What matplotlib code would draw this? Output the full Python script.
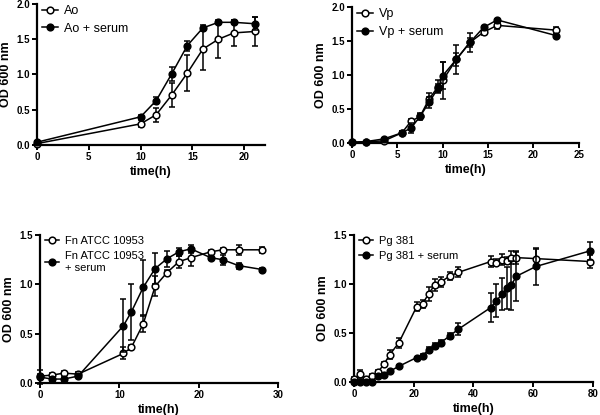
import matplotlib
matplotlib.use("Agg")
import matplotlib.pyplot as plt
from matplotlib.lines import Line2D
import numpy as np

plt.rcParams['font.family'] = ['Liberation Sans', 'DejaVu Sans']

# ---- Panel A: Ao ----
ao_t = [0, 10, 11.5, 13, 14.5, 16, 17.5, 19, 21]
ao_y = [0.02, 0.30, 0.43, 0.71, 1.02, 1.36, 1.50, 1.59, 1.61]
ao_e = [0.02, 0.05, 0.10, 0.17, 0.25, 0.30, 0.26, 0.18, 0.20]
aos_y = [0.04, 0.40, 0.63, 1.01, 1.41, 1.66, 1.74, 1.74, 1.72]
aos_e = [0.02, 0.03, 0.05, 0.10, 0.07, 0.04, 0.03, 0.03, 0.09]

# ---- Panel B: Vp ----
vp_t = [0, 1.5, 3.5, 5.5, 6.5, 7.5, 8.5, 9.5, 10, 11.5, 13, 14.5, 16, 22.5]
vp_y = [0.01, 0.02, 0.03, 0.15, 0.32, 0.39, 0.65, 0.83, 0.92, 1.23, 1.48, 1.63, 1.73, 1.66]
vp_e = [0.01, 0.01, 0.02, 0.03, 0.03, 0.05, 0.08, 0.09, 0.27, 0.10, 0.07, 0.04, 0.05, 0.04]
vps_y = [0.01, 0.02, 0.06, 0.15, 0.22, 0.39, 0.60, 0.81, 0.99, 1.23, 1.48, 1.70, 1.81, 1.58]
vps_e = [0.01, 0.01, 0.01, 0.03, 0.07, 0.04, 0.08, 0.06, 0.20, 0.21, 0.14, 0.02, 0.02, 0.02]

# ---- Panel C: Fn ATCC 10953 ----
fn_t = [0, 1.5, 3, 4.8, 10.5, 11.5, 13, 14.5, 16, 17.5, 19, 21.5, 23, 25, 28]
fn_y = [0.07, 0.08, 0.10, 0.09, 0.30, 0.36, 0.60, 0.98, 1.12, 1.23, 1.27, 1.33, 1.35, 1.35, 1.35]
fn_e = [0.02, 0.02, 0.02, 0.02, 0.06, 0.03, 0.08, 0.10, 0.03, 0.06, 0.08, 0.02, 0.02, 0.05, 0.03]
fns_y = [0.06, 0.04, 0.04, 0.07, 0.58, 0.72, 0.97, 1.16, 1.26, 1.33, 1.36, 1.27, 1.25, 1.19, 1.15]
fns_e = [0.07, 0.02, 0.02, 0.02, 0.27, 0.28, 0.28, 0.16, 0.08, 0.04, 0.04, 0.02, 0.05, 0.03, 0.02]

# ---- Panel D: Pg 381 ----
pg_t = [0, 2, 4, 6, 8, 10, 12, 15, 21, 23, 25, 27, 29, 32, 35, 45.8, 47.7, 49.7, 51.2, 52.7, 54.4, 61, 79.2]
pg_y = [0.03, 0.085, 0.03, 0.06, 0.10, 0.18, 0.28, 0.40, 0.77, 0.80, 0.90, 0.99, 1.02, 1.08, 1.12,
        1.23, 1.22, 1.25, 1.24, 1.27, 1.27, 1.26, 1.23]
pg_e = [0.02, 0.04, 0.02, 0.02, 0.02, 0.02, 0.05, 0.05, 0.05, 0.04, 0.07, 0.06, 0.05, 0.04, 0.05,
        0.06, 0.04, 0.06, 0.04, 0.07, 0.07, 0.10, 0.07]
pgs_y = [0.0, 0.0, 0.0, 0.0, 0.06, 0.07, 0.11, 0.16, 0.25, 0.27, 0.33, 0.37, 0.40, 0.47, 0.54,
         0.76, 0.83, 0.90, 0.96, 0.99, 1.08, 1.18, 1.34]
pgs_e = [0.01, 0.01, 0.01, 0.01, 0.01, 0.01, 0.01, 0.01, 0.01, 0.02, 0.03, 0.03, 0.03, 0.03, 0.06,
         0.15, 0.17, 0.16, 0.21, 0.25, 0.25, 0.19, 0.09]

panels = [
    dict(pos=[0.0617, 0.6506, 0.38, 0.3398], t=ao_t, y1=ao_y, e1=ao_e, y2=aos_y, e2=aos_e,
         l1="Ao", l2="Ao + serum", xlim=(0, 22), xt=[0, 5, 10, 15, 20],
         ylim=(0, 2.0), yt=[0.0, 0.5, 1.0, 1.5, 2.0], fs=9),
    dict(pos=[0.5867, 0.6554, 0.378, 0.3277], t=vp_t, y1=vp_y, e1=vp_e, y2=vps_y, e2=vps_e,
         l1="Vp", l2="Vp + serum", xlim=(0, 25), xt=[0, 5, 10, 15, 20, 25],
         ylim=(0, 2.0), yt=[0.0, 0.5, 1.0, 1.5, 2.0], fs=9),
    dict(pos=[0.0667, 0.0771, 0.397, 0.3566], t=fn_t, y1=fn_y, e1=fn_e, y2=fns_y, e2=fns_e,
         l1="Fn ATCC 10953", l2="Fn ATCC 10953\n+ serum", xlim=(0, 30), xt=[0, 10, 20, 30],
         ylim=(0, 1.5), yt=[0.0, 0.5, 1.0, 1.5], fs=8),
    dict(pos=[0.59, 0.0795, 0.398, 0.354], t=pg_t, y1=pg_y, e1=pg_e, y2=pgs_y, e2=pgs_e,
         l1="Pg 381", l2="Pg 381 + serum", xlim=(0, 80), xt=[0, 20, 40, 60, 80],
         ylim=(0, 1.5), yt=[0.0, 0.5, 1.0, 1.5], fs=8),
]

fig = plt.figure(figsize=(6.0, 4.15), dpi=100)

MS = 4.8
LW = 1.1
for p in panels:
    ax = fig.add_axes(p['pos'])
    ax.errorbar(p['t'], p['y1'], yerr=p['e1'], color='black', lw=LW, marker='o', ms=MS,
                mfc='white', mec='black', mew=1.1, capsize=2.5, elinewidth=1.1, capthick=1.1,
                clip_on=False, zorder=3)
    ax.errorbar(p['t'], p['y2'], yerr=p['e2'], color='black', lw=LW, marker='o', ms=MS,
                mfc='black', mec='black', mew=1.1, capsize=2.5, elinewidth=1.1, capthick=1.1,
                clip_on=False, zorder=4)
    ax.set_xlim(*p['xlim'])
    ax.set_ylim(*p['ylim'])
    ax.set_xticks(p['xt'])
    ax.set_yticks(p['yt'])
    ax.set_yticklabels([f"{v:.1f}" for v in p['yt']])
    for s in ['top', 'right']:
        ax.spines[s].set_visible(False)
    for s in ['left', 'bottom']:
        ax.spines[s].set_linewidth(1.6)
    ax.tick_params(direction='out', length=3.5, width=1.4, labelsize=7, pad=1.5)
    for lab in ax.get_xticklabels() + ax.get_yticklabels():
        lab.set_fontweight('bold')
    ax.set_xlabel("time(h)", fontsize=9, fontweight='bold', labelpad=3)
    ax.set_ylabel("OD 600 nm", fontsize=9, fontweight='bold', labelpad=3)
    h1 = Line2D([], [], color='black', lw=LW, marker='o', ms=MS, mfc='white', mec='black', mew=1.1)
    h2 = Line2D([], [], color='black', lw=LW, marker='o', ms=MS, mfc='black', mec='black', mew=1.1)
    ax.legend([h1, h2], [p['l1'], p['l2']], loc='upper left', bbox_to_anchor=(0.015, 1.0),
              frameon=False, fontsize=p['fs'], handlelength=1.3, handletextpad=0.5,
              borderaxespad=0.0, labelspacing=0.45, borderpad=0.1)

fig.savefig("out.png", dpi=100)
